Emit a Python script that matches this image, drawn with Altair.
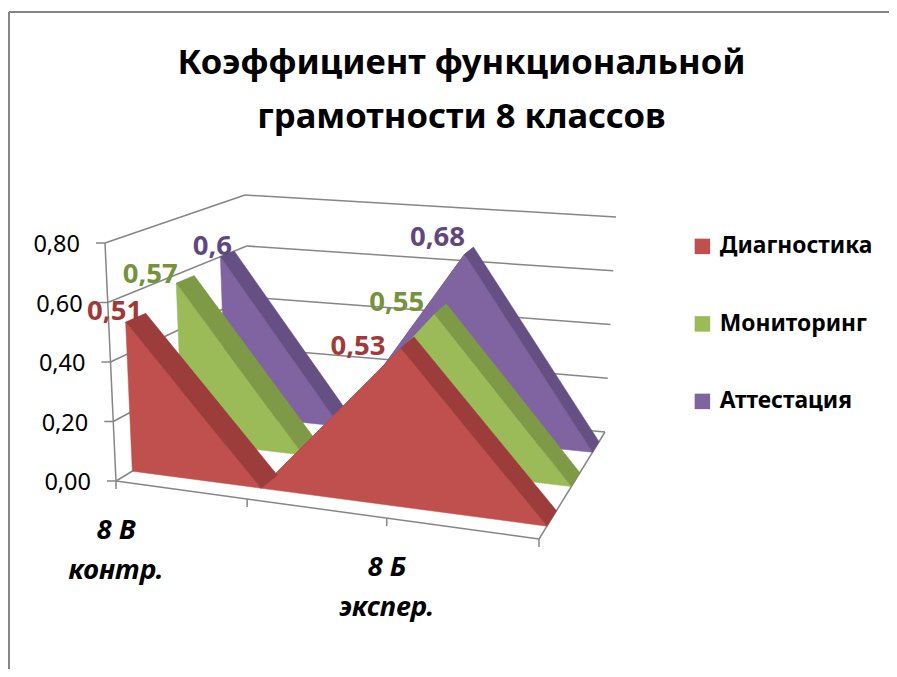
import altair as alt
import pandas as pd

categories = ["8 В\nконтр.", "", "8 Б\nэкспер.", ""]
series = ["Диагностика", "Мониторинг", "Аттестация"]
diag = [0.51, 0.0, 0.53, 0.0]
mon = [0.57, 0.0, 0.55, 0.0]
att = [0.60, 0.0, 0.68, 0.0]
val_ticks = [0.0, 0.2, 0.4, 0.6, 0.8]
val_labels = ["0,00", "0,20", "0,40", "0,60", "0,80"]
face = ["#C0504D", "#9BBB59", "#8064A2"]
dark = ["#9C3D3B", "#7F9A47", "#664F83"]
label_col = ["#9E3A38", "#76923C", "#5F497A"]
label_txt = [["0,51", "0,53"], ["0,57", "0,55"], ["0,6", "0,68"]]
label_off = [[(-11, -10), (-43, -1)], [(-26, -8), (-38, -11)], [(-8, -10), (-27, -16)]]
d_front = [0.12, 0.49, 0.81]
d_back = [0.265, 0.62, 0.91]
T = [0, 0.31, 0.64, 1]
GREY = "#868686"
FONT = "Noto Sans"

# oblique box of the 3-D chart
FL, FR, BL, BR = (116, 481), (539, 539), (252, 399), (605, 432)
UFL, UFR, UBL, UBR = (-11, -238), (14, -245), (-7, -204), (11, -215)


def bil(a, b, c, e, t, d):
    return tuple((a[k] * (1 - t) + b[k] * t) * (1 - d) + (c[k] * (1 - t) + e[k] * t) * d for k in (0, 1))


def P(t, d, v):
    f = bil(FL, FR, BL, BR, t, d)
    u = bil(UFL, UFR, UBL, UBR, t, d)
    return (f[0] + u[0] * v / 0.8, f[1] + u[1] * v / 0.8)


xs = alt.Scale(domain=[8, 889], nice=False, zero=False)
ys = alt.Scale(domain=[669, 150], nice=False, zero=False)
X = alt.X("x:Q", scale=xs, axis=None)
Y = alt.Y("y:Q", scale=ys, axis=None)


def poly(pts, col):
    df = pd.DataFrame({"x": [p[0] for p in pts], "y": [p[1] for p in pts], "i": list(range(len(pts)))})
    return alt.Chart(df).mark_line(interpolate="linear-closed", fill=col, stroke=col, strokeWidth=0.5).encode(
        x=X, y=Y, order="i:Q")


def rules(segs, col=GREY, w=1.5):
    df = pd.DataFrame({"x": [s[0][0] for s in segs], "y": [s[0][1] for s in segs],
                       "x2": [s[1][0] for s in segs], "y2": [s[1][1] for s in segs]})
    return alt.Chart(df).mark_rule(color=col, strokeWidth=w).encode(x=X, y=Y, x2="x2:Q", y2="y2:Q")


def text(rows, **kw):
    df = pd.DataFrame(rows, columns=["x", "y", "t"])
    return alt.Chart(df).mark_text(font=FONT, **kw).encode(x=X, y=Y, text="t:N")


values = [diag, mon, att]
layers = []

# legend carrier, hidden beneath the faces
leg_df = pd.DataFrame({"s": series, "x": [P(T[0], d_back[i], 0.2)[0] for i in range(3)],
                       "y": [P(T[0], d_back[i], 0.2)[1] for i in range(3)]})
layers.append(alt.Chart(leg_df).mark_square(size=1, opacity=1, filled=True).encode(
    x=X, y=Y,
    color=alt.Color("s:N", sort=series, scale=alt.Scale(domain=series, range=face),
                    legend=alt.Legend(title=None, orient="none", legendX=683, legendY=85, symbolType="square",
                                      symbolSize=240, symbolStrokeWidth=0, labelFont=FONT, labelFontSize=22.8,
                                      labelFontWeight="bold", labelColor="#000000", rowPadding=53.5, labelOffset=6,
                                      labelLimit=300))))

# border
layers.append(rules([((9, 669), (9, 12)), ((9, 12), (889, 12))], w=2))

# walls and floor
segs = []
for v in val_ticks:
    segs.append((P(0, 0, v), P(0, 1, v)))
    segs.append((P(0, 1, v), P(1, 1, v)))
segs.append((P(1, 0, 0), P(1, 1, 0)))
layers.append(rules(segs))

# axes
ax = [(P(0, 0, 0), P(1, 0, 0)), (P(0, 0, 0), P(0, 0, 0.8))]
for v in val_ticks:
    p = P(0, 0, v)
    ax.append(((p[0] - 9, p[1]), p))
for t in T:
    p = P(t, 0, 0)
    ax.append((p, (p[0], p[1] + 8)))
layers.append(rules(ax))

# ribbons and faces, back to front
for i in (2, 1, 0):
    v = values[i]
    df_, db_ = d_front[i], d_back[i]
    for k in (0, 1, 2):
        if v[k + 1] > v[k]:
            layers.append(poly([P(T[k], df_, v[k]), P(T[k + 1], df_, v[k + 1]), P(T[k + 1], db_, v[k + 1]), P(T[k], db_, v[k])], dark[i]))
    pts = [P(T[0], df_, 0)] + [P(T[k], df_, v[k]) for k in range(4)]
    layers.append(poly(pts, face[i]))
    for k in (0, 1, 2):
        if v[k + 1] < v[k]:
            layers.append(poly([P(T[k], df_, v[k]), P(T[k + 1], df_, v[k + 1]), P(T[k + 1], db_, v[k + 1]), P(T[k], db_, v[k])], dark[i]))

# data labels
for i in range(3):
    rows = []
    for j, k in enumerate((0, 2)):
        p = P(T[k], d_front[i], values[i][k])
        rows.append((p[0] + label_off[i][j][0], p[1] + label_off[i][j][1], label_txt[i][j]))
    layers.append(text(rows, fontSize=27.5, fontWeight="bold", color=label_col[i], align="center", baseline="middle"))

# value-axis labels
rows = []
for v, l in zip(val_ticks, val_labels):
    p = P(0, 0, v)
    rows.append((p[0] - 25, p[1] + 2, l))
layers.append(text(rows, fontSize=23.5, color="#000000", align="right", baseline="middle"))

# category labels
rows = []
for k, c in enumerate(categories):
    if c:
        p = P(T[k], 0, 0)
        rows.append((p[0], p[1] + 50, c))
layers.append(text(rows, fontSize=27.5, fontWeight="bold", fontStyle="italic", color="#000000", align="center",
                   baseline="middle", lineBreak="\n", lineHeight=40))

chart = alt.layer(*layers).properties(
    width=881, height=519,
    padding={"left": 0, "top": 142, "right": 0, "bottom": 0},
    autosize=alt.AutoSizeParams(type="none"),
    title=alt.TitleParams(text=["Коэффициент функциональной", "грамотности 8 классов"], font=FONT, fontSize=34.6,
                          fontWeight="bold", color="#000000", anchor="middle", frame="group", dx=13, offset=-125,
                          lineHeight=54),
).configure_view(stroke=None).configure_legend(symbolType="square")

chart.save("out.html", embed_options={"renderer": "svg", "actions": False})
